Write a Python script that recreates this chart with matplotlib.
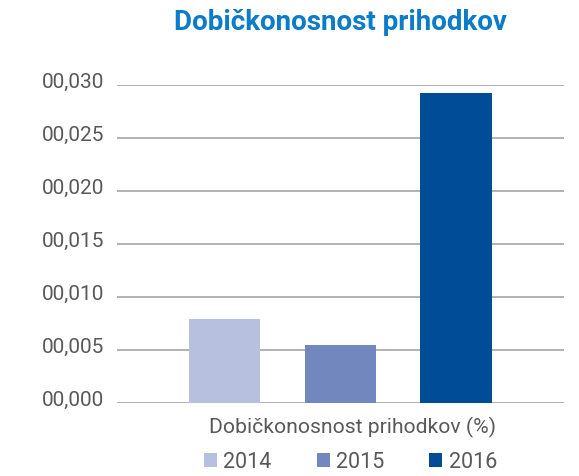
import matplotlib
matplotlib.use("Agg")
import matplotlib.pyplot as plt
from matplotlib.patches import Patch
from matplotlib.transforms import ScaledTranslation
import numpy as np

title = "Dobičkonosnost prihodkov"
categories = ["Dobičkonosnost prihodkov (%)"]
series = ["2014", "2015", "2016"]
values = [0.0079, 0.0055, 0.0292]
colors = ["#B8C0E0", "#7287BE", "#004C97"]
yticks = [0.000, 0.005, 0.010, 0.015, 0.020, 0.025, 0.030]
ytick_labels = ["00,000", "00,005", "00,010", "00,015", "00,020", "00,025", "00,030"]

plt.rcParams['font.family'] = ['Roboto', 'DejaVu Sans']
text_color = "#595959"
grid_color = "#A6A6A6"

W, H = 579, 477
fig = plt.figure(figsize=(W / 100, H / 100), dpi=100)
ax = fig.add_axes([117 / W, (H - 404) / H, (563.5 - 117) / W, (404 - 86) / H])

x = np.arange(len(series))
ax.bar(x, values, width=0.615, color=colors, zorder=3)

ax.set_xlim(-0.929, len(series) - 1 + 0.929)
ax.set_ylim(0, 0.030)
ax.set_yticks(yticks)
ax.set_yticklabels(ytick_labels, fontsize=15, color=text_color)
ax.tick_params(axis='y', length=0, pad=9)
for lbl in ax.get_yticklabels():
    lbl.set_transform(lbl.get_transform() + ScaledTranslation(0, 6 / 100, fig.dpi_scale_trans))

ax.set_xticks([1])
ax.set_xticklabels(categories, fontsize=15.2, color=text_color)
ax.tick_params(axis='x', length=0, pad=9)
for lbl in ax.get_xticklabels():
    lbl.set_transform(lbl.get_transform() + ScaledTranslation(12 / 100, 0, fig.dpi_scale_trans))

ax.grid(axis='y', color=grid_color, linewidth=1.2, zorder=0)
for s in ax.spines.values():
    s.set_visible(False)

fig.text(340 / W, 1 - 29.5 / H, title, ha='center', va='baseline', fontsize=20,
         fontweight='bold', color="#0A7CC8")

handles = [Patch(facecolor=c, edgecolor='none') for c in colors]
leg = fig.legend(handles, series, loc='center', bbox_to_anchor=(350.5 / W, 1 - 463 / H),
                 ncol=3, frameon=False, fontsize=15.5, handlelength=0.6, handleheight=0.6,
                 handletextpad=0.3, columnspacing=2.1, labelcolor=text_color,
                 borderpad=0, borderaxespad=0)

fig.savefig("out.png", dpi=100)
